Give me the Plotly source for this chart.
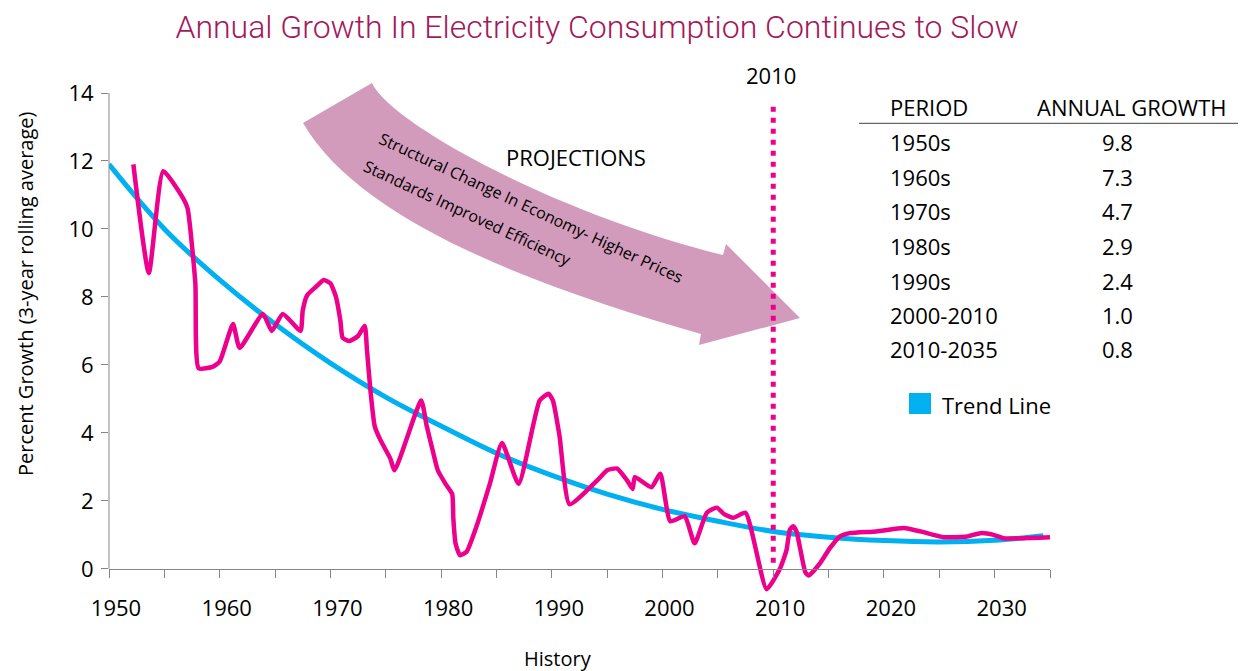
import plotly.graph_objects as go

# Annual growth in electricity use, 3-year rolling average (%), history + outlook
hist_year = [1952.2, 1953.6, 1954.9, 1956.7, 1957.1, 1957.8, 1958.1, 1959.4, 1960.0, 1961.2,
             1961.8, 1963.9, 1964.7, 1965.7, 1967.3, 1967.5, 1967.9, 1968.7, 1969.4, 1970.0,
             1970.5, 1970.9, 1971.1, 1971.7, 1972.5, 1973.1, 1973.3, 1973.6, 1974.0, 1974.5,
             1975.4, 1975.8, 1978.2, 1978.7, 1979.3, 1979.7, 1980.4, 1981.0, 1981.1, 1981.3,
             1981.7, 1982.3, 1983.2, 1984.4, 1985.5, 1987.0, 1988.9, 1989.7, 1990.1, 1990.7,
             1991.6, 1994.1, 1995.0, 1995.9, 1996.8, 1997.3, 1997.5, 1999.0, 1999.8, 2000.7,
             2002.0, 2002.9, 2004.0, 2004.9, 2005.6, 2006.4, 2007.5, 2009.4, 2010.6, 2011.2,
             2011.5, 2011.8, 2012.1, 2012.4, 2012.9, 2013.2, 2014.2, 2015.1, 2016.0, 2016.9,
             2019.3, 2021.8, 2023.3, 2025.4, 2027.5, 2028.7, 2029.9, 2030.8, 2035.0]
hist_growth = [11.9, 8.7, 11.7, 10.9, 10.6, 8.4, 5.9, 5.95, 6.1, 7.2,
               6.5, 7.5, 7.0, 7.5, 7.0, 7.6, 8.05, 8.3, 8.5, 8.4,
               8.0, 7.3, 6.8, 6.7, 6.85, 7.15, 6.45, 5.3, 4.2, 3.8,
               3.25, 2.9, 4.95, 4.2, 3.4, 2.9, 2.5, 2.2, 1.5, 0.75,
               0.4, 0.5, 1.25, 2.5, 3.7, 2.5, 4.95, 5.15, 4.95, 3.9,
               1.9, 2.6, 2.9, 2.95, 2.6, 2.35, 2.7, 2.4, 2.8, 1.4,
               1.55, 0.75, 1.65, 1.8, 1.6, 1.5, 1.65, -0.6, 0.0, 0.55,
               1.15, 1.25, 1.1, 0.65, -0.1, -0.2, 0.15, 0.6, 0.95, 1.05,
               1.1, 1.2, 1.1, 0.93, 0.95, 1.05, 1.0, 0.9, 0.93]

trend_year = [1950, 1955, 1960, 1965, 1970, 1975, 1980, 1985, 1990, 1995,
              2000, 2005, 2010, 2015, 2020, 2025, 2030, 2034.4]
trend_growth = [11.9, 10.0, 8.5, 7.2, 6.05, 5.05, 4.2, 3.4, 2.75, 2.2,
                1.75, 1.4, 1.1, 0.93, 0.83, 0.79, 0.84, 0.97]

periods = ["1950s", "1960s", "1970s", "1980s", "1990s", "2000-2010", "2010-2035"]
period_growth = [9.8, 7.3, 4.7, 2.9, 2.4, 1.0, 0.8]

x_label_years = list(range(1950, 2031, 10))
y_ticks = list(range(0, 15, 2))
marker_year = 2010

W, H = 1244, 671
M_L, M_R, M_T, M_B = 109, 194, 93, 75
Y_MIN, Y_MAX = -0.8, 14
X_MIN, X_MAX = 1950, 2035

FONT = "Open Sans"
MAGENTA = "#EC008C"
BLUE = "#00B0F0"
AXIS_GREY = "#868686"


def px(x):
    """Page pixel column -> paper x."""
    return (x - M_L) / (W - M_L - M_R)


def py(y):
    """Page pixel row -> paper y."""
    return (H - M_B - y) / (H - M_T - M_B)


def pt(x, y):
    return f"{px(x):.5f},{py(y):.5f}"


fig = go.Figure()

fig.add_trace(go.Scatter(
    x=trend_year, y=trend_growth, mode="lines", name="Trend Line",
    line=dict(color=BLUE, width=5, shape="spline", smoothing=1.0),
    showlegend=False, hoverinfo="skip",
))
fig.add_trace(go.Scatter(
    x=[y + 0.0 for y in hist_year], y=hist_growth, mode="lines", name="Growth",
    line=dict(color=MAGENTA, width=4.5, shape="spline", smoothing=0.5),
    showlegend=False,
))

# curved "projections" arrow
arrow_path = (
    f"M {pt(372, 83)} C {pt(392, 125)} {pt(560, 215)} {pt(723, 255)} "
    f"L {pt(726, 244)} L {pt(800, 318)} L {pt(699, 345)} L {pt(701, 334)} "
    f"C {pt(556, 292)} {pt(363, 227)} {pt(303, 123)} Z"
)

shapes = [
    dict(type="path", xref="paper", yref="paper", path=arrow_path,
         fillcolor="#D39BBB", line=dict(width=0), layer="below"),
    # y axis line from 0 to 14
    dict(type="line", xref="paper", yref="y", x0=0, x1=0, y0=0, y1=Y_MAX,
         line=dict(color=AXIS_GREY, width=1), layer="above"),
    # 2010 marker
    dict(type="line", xref="x", yref="y", x0=marker_year, x1=marker_year, y0=0.18, y1=13.6,
         line=dict(color=MAGENTA, width=5, dash="5px,6px"), layer="above"),
    # table header rule
    dict(type="line", xref="paper", yref="paper", x0=px(859), x1=px(1238),
         y0=py(123.3), y1=py(123.3), line=dict(color="#404040", width=1)),
    # legend swatch
    dict(type="rect", xref="paper", yref="paper", x0=px(909), x1=px(931),
         y0=py(414), y1=py(393), fillcolor=BLUE, line=dict(width=0)),
]

annotations = []


def label(text, x, y, size=22, xanchor="center", angle=0, color="black", family=FONT):
    annotations.append(dict(
        text=text, xref="paper", yref="paper", x=px(x), y=py(y),
        xanchor=xanchor, yanchor="middle", showarrow=False, textangle=angle,
        font=dict(family=family, size=size, color=color),
    ))


label("PROJECTIONS", 576, 157)
label("Structural Change In Economy- Higher Prices", 531.7, 207.5, size=16, angle=25)
label("Standards Improved Efficiency", 467.5, 213.3, size=16, angle=25)
label(str(marker_year), 771, 75)

label("PERIOD", 888, 106.7, xanchor="left")
label("ANNUAL GROWTH", 1035, 106.7, xanchor="left")
row_y = [141.7, 176.7, 210.7, 245.7, 280.7, 315.0, 349.3]
for name, val, ry in zip(periods, period_growth, row_y):
    label(name, 888, ry, xanchor="left")
    label(f"{val:.1f}", 1117, ry)
label("Trend Line", 940, 405, xanchor="left")

label("History", 558, 658, size=20)
label("Percent Growth (3-year rolling average)", 25, 294, size=20, angle=-90)

fig.update_layout(
    width=W, height=H,
    margin=dict(l=M_L, r=M_R, t=M_T, b=M_B, pad=0),
    paper_bgcolor="white", plot_bgcolor="white",
    showlegend=False,
    title=dict(
        text="Annual Growth In Electricity Consumption Continues to Slow",
        x=597 / W, xref="container", xanchor="center",
        y=1 - 27 / H, yref="container", yanchor="middle",
        font=dict(family="Roboto", size=32, weight=300, color="#A3195B"),
    ),
    xaxis=dict(
        range=[X_MIN, X_MAX], anchor="free", position=(0 - Y_MIN) / (Y_MAX - Y_MIN),
        tickmode="linear", tick0=1950, dtick=10, tickformat="d",
        ticks="outside", ticklen=8, tickcolor=AXIS_GREY, tickwidth=1,
        ticklabelshift=7, ticklabelstandoff=12,
        minor=dict(dtick=5, tick0=1950, ticks="outside", ticklen=8,
                   tickcolor=AXIS_GREY, tickwidth=1, showgrid=False),
        showline=True, linecolor=AXIS_GREY, linewidth=1,
        showgrid=False, zeroline=False,
        tickfont=dict(family=FONT, size=22, color="black"),
    ),
    yaxis=dict(
        range=[Y_MIN, Y_MAX], tickmode="array", tickvals=y_ticks,
        ticks="outside", ticklen=7, tickcolor=AXIS_GREY, tickwidth=1,
        ticklabelstandoff=3,
        showline=False, showgrid=False, zeroline=False,
        tickfont=dict(family=FONT, size=22, color="black"),
    ),
    shapes=shapes,
    annotations=annotations,
)

fig.write_html("out.html")
